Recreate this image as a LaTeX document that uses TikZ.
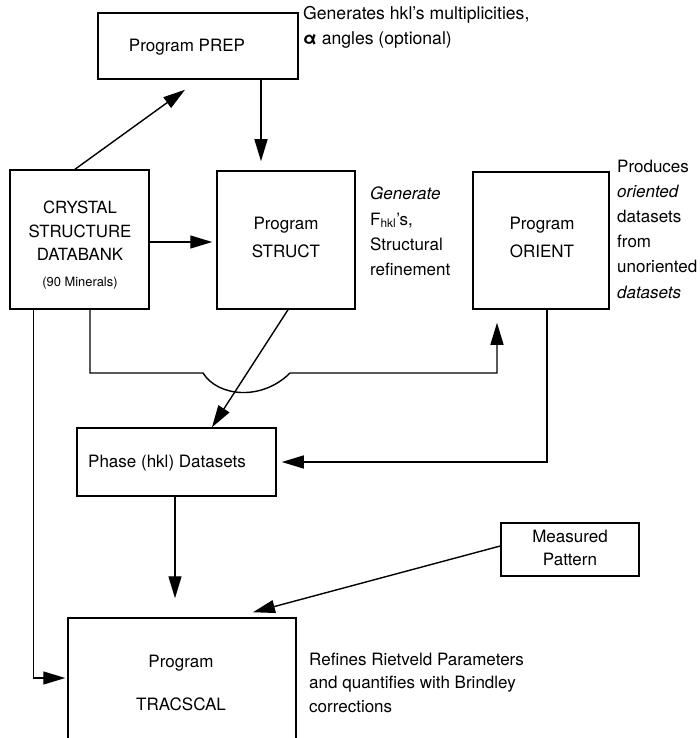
\documentclass[tikz,border=0pt]{standalone}
\usepackage{fontspec}
\setmainfont{TeX Gyre Heros}
\usetikzlibrary{arrows.meta,calc}
\begin{document}
\begin{tikzpicture}[x=1pt,y=-1pt,
  box/.style={draw, line width=1.5pt, inner sep=0pt},
  txt/.style={inner sep=0pt, font=\fontsize{17}{25}\selectfont},
  arr/.style={line width=1.4pt, -{Triangle[length=22pt,width=13pt]}},
  link/.style={line width=1.4pt}]
\clip (0,0) rectangle (699,738);
\fill[white] (0,0) rectangle (699,738);

% boxes
\node[box, minimum width=200pt, minimum height=66pt]  (prep)     at (198,46) {};
\node[box, minimum width=139pt, minimum height=139pt] (crystal)  at (79.5,239.5) {};
\node[box, minimum width=138pt, minimum height=138pt] (struct)   at (286,240) {};
\node[box, minimum width=136pt, minimum height=137pt] (orient)   at (541,240.5) {};
\node[box, minimum width=199pt, minimum height=68pt]  (phase)    at (176.5,462) {};
\node[box, minimum width=138pt, minimum height=53pt]  (measured) at (570,549.5) {};
\node[box, minimum width=228pt, minimum height=127pt] (tracscal) at (182,681.5) {};

% texts
\node[txt] (preptxt) at (187,47) {Program PREP};
\node[txt, align=left, anchor=west, font=\fontsize{17.6}{25}\selectfont] (prepnote) at (303,27.5)
  {Generates hkl's multiplicities,\\ \textbf{α} angles (optional)};
\node[txt, align=center, font=\fontsize{16.8}{23.6}\selectfont] (crystaltxt) at (80,245)
  {CRYSTAL\\ STRUCTURE\\ DATABANK\\[2pt] {\fontsize{12.9}{15}\selectfont (90 Minerals)}};
\node[txt, align=center, font=\fontsize{17}{28}\selectfont] (structtxt) at (286,237) {Program\\ STRUCT};
\node[txt, align=center, font=\fontsize{17}{28}\selectfont] (orienttxt) at (542,237) {Program\\ ORIENT};
\node[txt, align=left, anchor=west, font=\fontsize{17}{25.3}\selectfont] (structnote) at (370,231.5)
  {\textit{Generate}\\ F\textsubscript{hkl}'s,\\ Structural\\ refinement};
\node[txt, align=left, anchor=west, font=\fontsize{17}{25.2}\selectfont] (orientnote) at (617,229)
  {Produces\\ \textit{oriented}\\ datasets\\ from\\ unoriented\\ \textit{datasets}};
\node[txt, anchor=west] (phasetxt) at (88,463) {Phase (hkl) Datasets};
\node[txt, align=center, font=\fontsize{17}{23}\selectfont] (measuredtxt) at (570,548) {Measured\\ Pattern};
\node[txt, align=center, font=\fontsize{17}{43}\selectfont] (tracscaltxt) at (181,682.5) {Program\\ TRACSCAL};
\node[txt, align=left, anchor=west, font=\fontsize{17}{23.5}\selectfont] (tracscalnote) at (309,682.5)
  {Refines Rietveld Parameters\\ and quantifies with Brindley\\ corrections};

% hop-over points
\coordinate (hopL) at (203,373);
\coordinate (hopR) at (290,373);

% connectors
\draw[arr] ($(crystal.north)+(-4.5,0)$) -- ($(prep.south)+(-13,10)$);
\draw[arr] ($(prep.south)+(63,0)$) -- ($(struct.north)+(-25,-9)$);
\draw[arr] ($(crystal.east)+(0,2.5)$) -- ($(struct.west)+(-4,2)$);
\draw[arr] ($(crystal.south)+(10.5,0)$) |- (hopL)
  .. controls (218,397) and (262,401) .. (hopR) -| ($(orient.south)+(-44,13)$);
\draw[arr] ($(struct.south)+(2,0)$) -- ($(phase.north)+(35.5,0)$);
\draw[arr] ($(orient.south)+(6,0)$) |- ($(phase.east)+(5,0)$);
\draw[arr] ($(phase.south)+(-1.5,0)$) -- ($(tracscal.north)+(-7,-19)$);
\draw[arr] ($(measured.west)+(0,-3.5)$) -- ($(tracscal.north)+(71,-5)$);
\draw[arr] ($(crystal.south)+(-46,0)$) |- ($(tracscal.west)+(-2,-3.5)$);
\end{tikzpicture}
\end{document}
